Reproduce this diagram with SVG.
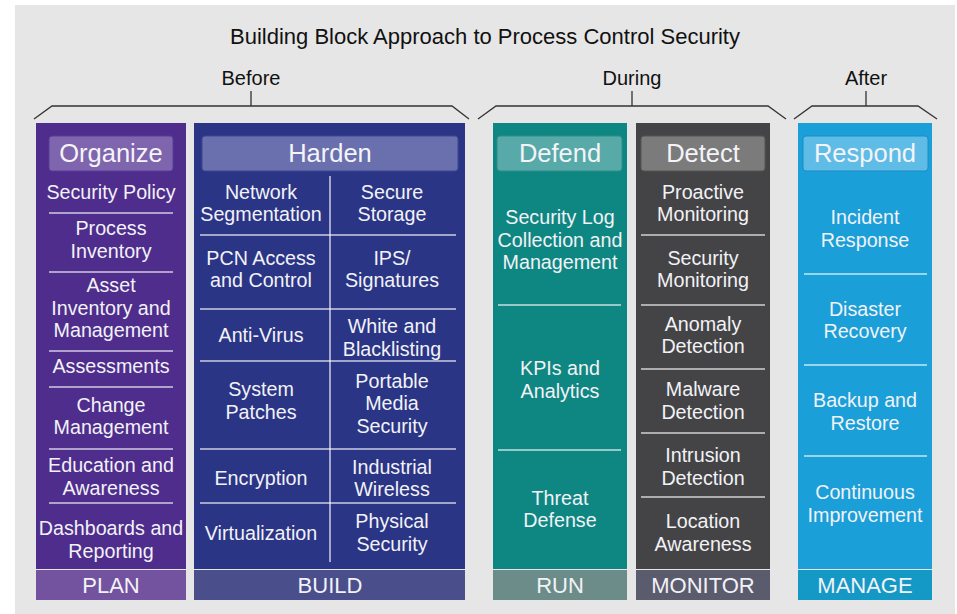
<svg xmlns="http://www.w3.org/2000/svg" width="957" height="614" viewBox="0 0 957 614">
<style>
text{font-family:"Liberation Sans",Arial,sans-serif;text-anchor:middle}
.t{font-size:22px;fill:#111}
.ph{font-size:20px;fill:#111}
.hd{font-size:25.5px;fill:#f4f4f8}
.it{font-size:19.7px;fill:#f2f2f6}
.bd{font-size:22px;fill:#f2f2f6}
.br{fill:none;stroke:#333;stroke-width:1.3}
.dv{stroke:#ffffff;stroke-opacity:0.75;stroke-width:1.5}
.pill{rx:3;ry:3}
</style>
<rect x="15" y="5" width="940" height="609" fill="#e6e6e6"/>
<text class="t" x="485" y="44">Building Block Approach to Process Control Security</text>
<g id="phases">
<text class="ph" x="251" y="85">Before</text>
<text class="ph" x="632" y="85">During</text>
<text class="ph" x="866" y="85">After</text>
</g>
<g id="connectors">
<path class="br" d="M34 119 L52 106 L452 106 L469 119 M251 106 L251 91"/>
<path class="br" d="M478 119 L496 106 L768 106 L786 119 M632 106 L632 91"/>
<path class="br" d="M794 119 L812 106 L918 106 L937 119 M866 106 L866 91"/>
</g>
<g id="organize">
<rect x="36" y="123" width="150" height="446" fill="#4e2d8d"/>
<rect x="36" y="570" width="150" height="30" fill="#7352a0"/>
<rect class="pill" x="49" y="136" width="124" height="35" fill="#7f65ad" stroke="#5b3d98"/>
<text class="hd" x="111" y="162">Organize</text>
<g class="dv"><line x1="49" y1="213" x2="173" y2="213"/><line x1="49" y1="272" x2="173" y2="272"/><line x1="49" y1="351" x2="173" y2="351"/><line x1="49" y1="387" x2="173" y2="387"/><line x1="49" y1="449" x2="173" y2="449"/><line x1="49" y1="503" x2="173" y2="503"/></g>
<text class="it" x="111" y="199">Security Policy</text>
<text class="it" x="111" y="235">Process</text><text class="it" x="111" y="258">Inventory</text>
<text class="it" x="111" y="292">Asset</text><text class="it" x="111" y="315">Inventory and</text><text class="it" x="111" y="337">Management</text>
<text class="it" x="111" y="373">Assessments</text>
<text class="it" x="111" y="412">Change</text><text class="it" x="111" y="434">Management</text>
<text class="it" x="111" y="472">Education and</text><text class="it" x="111" y="495">Awareness</text>
<text class="it" x="111" y="535">Dashboards and</text><text class="it" x="111" y="558">Reporting</text>
<text class="bd" x="111" y="593">PLAN</text>
</g>
<g id="harden">
<rect x="194" y="123" width="271" height="446" fill="#2b3586"/>
<rect x="194" y="570" width="271" height="30" fill="#4a4f8c"/>
<rect class="pill" x="202" y="136" width="256" height="35" fill="#6a70ad" stroke="#3f4793"/>
<text class="hd" x="330" y="162">Harden</text>
<g class="dv"><line x1="330" y1="176" x2="330" y2="562"/><line x1="200" y1="235" x2="456" y2="235"/><line x1="200" y1="309" x2="456" y2="309"/><line x1="200" y1="361" x2="456" y2="361"/><line x1="200" y1="449" x2="456" y2="449"/><line x1="200" y1="503" x2="456" y2="503"/></g>
<text class="it" x="261" y="199">Network</text><text class="it" x="261" y="221">Segmentation</text>
<text class="it" x="392" y="199">Secure</text><text class="it" x="392" y="221">Storage</text>
<text class="it" x="261" y="265">PCN Access</text><text class="it" x="261" y="287">and Control</text>
<text class="it" x="392" y="265">IPS/</text><text class="it" x="392" y="287">Signatures</text>
<text class="it" x="261" y="342">Anti-Virus</text>
<text class="it" x="392" y="333">White and</text><text class="it" x="392" y="356">Blacklisting</text>
<text class="it" x="261" y="396">System</text><text class="it" x="261" y="419">Patches</text>
<text class="it" x="392" y="388">Portable</text><text class="it" x="392" y="410">Media</text><text class="it" x="392" y="433">Security</text>
<text class="it" x="261" y="485">Encryption</text>
<text class="it" x="392" y="474">Industrial</text><text class="it" x="392" y="496">Wireless</text>
<text class="it" x="261" y="540">Virtualization</text>
<text class="it" x="392" y="528">Physical</text><text class="it" x="392" y="551">Security</text>
<text class="bd" x="330" y="593">BUILD</text>
</g>
<g id="defend">
<rect x="493" y="123" width="134" height="446" fill="#0e8682"/>
<rect x="493" y="570" width="134" height="30" fill="#6b8c89"/>
<rect class="pill" x="497" y="136" width="125" height="35" fill="#57aaa8" stroke="#2e8c88"/>
<text class="hd" x="560" y="162">Defend</text>
<g class="dv"><line x1="498" y1="305" x2="621" y2="305"/><line x1="498" y1="450" x2="621" y2="450"/></g>
<text class="it" x="560" y="224">Security Log</text><text class="it" x="560" y="247">Collection and</text><text class="it" x="560" y="269">Management</text>
<text class="it" x="560" y="375">KPIs and</text><text class="it" x="560" y="398">Analytics</text>
<text class="it" x="560" y="505">Threat</text><text class="it" x="560" y="527">Defense</text>
<text class="bd" x="560" y="593">RUN</text>
</g>
<g id="detect">
<rect x="636" y="123" width="134" height="446" fill="#444446"/>
<rect x="636" y="570" width="134" height="30" fill="#5b5b6e"/>
<rect class="pill" x="641" y="136" width="124" height="35" fill="#7b7b7b" stroke="#555"/>
<text class="hd" x="703" y="162">Detect</text>
<g class="dv"><line x1="641" y1="235" x2="765" y2="235"/><line x1="641" y1="305" x2="765" y2="305"/><line x1="641" y1="369" x2="765" y2="369"/><line x1="641" y1="433" x2="765" y2="433"/><line x1="641" y1="497" x2="765" y2="497"/></g>
<text class="it" x="703" y="199">Proactive</text><text class="it" x="703" y="221">Monitoring</text>
<text class="it" x="703" y="265">Security</text><text class="it" x="703" y="287">Monitoring</text>
<text class="it" x="703" y="331">Anomaly</text><text class="it" x="703" y="353">Detection</text>
<text class="it" x="703" y="396">Malware</text><text class="it" x="703" y="419">Detection</text>
<text class="it" x="703" y="462">Intrusion</text><text class="it" x="703" y="485">Detection</text>
<text class="it" x="703" y="528">Location</text><text class="it" x="703" y="551">Awareness</text>
<text class="bd" x="703" y="593">MONITOR</text>
</g>
<g id="respond">
<rect x="798" y="123" width="134" height="446" fill="#1a9fd9"/>
<rect x="798" y="570" width="134" height="30" fill="#1499c6"/>
<rect class="pill" x="803" y="136" width="125" height="35" fill="#5fbce6" stroke="#1c8cc0"/>
<text class="hd" x="865" y="162">Respond</text>
<g class="dv"><line x1="804" y1="274" x2="927" y2="274"/><line x1="804" y1="365" x2="927" y2="365"/><line x1="804" y1="456" x2="927" y2="456"/></g>
<text class="it" x="865" y="224">Incident</text><text class="it" x="865" y="247">Response</text>
<text class="it" x="865" y="316">Disaster</text><text class="it" x="865" y="338">Recovery</text>
<text class="it" x="865" y="407">Backup and</text><text class="it" x="865" y="430">Restore</text>
<text class="it" x="865" y="499">Continuous</text><text class="it" x="865" y="522">Improvement</text>
<text class="bd" x="865" y="593">MANAGE</text>
</g>
</svg>
